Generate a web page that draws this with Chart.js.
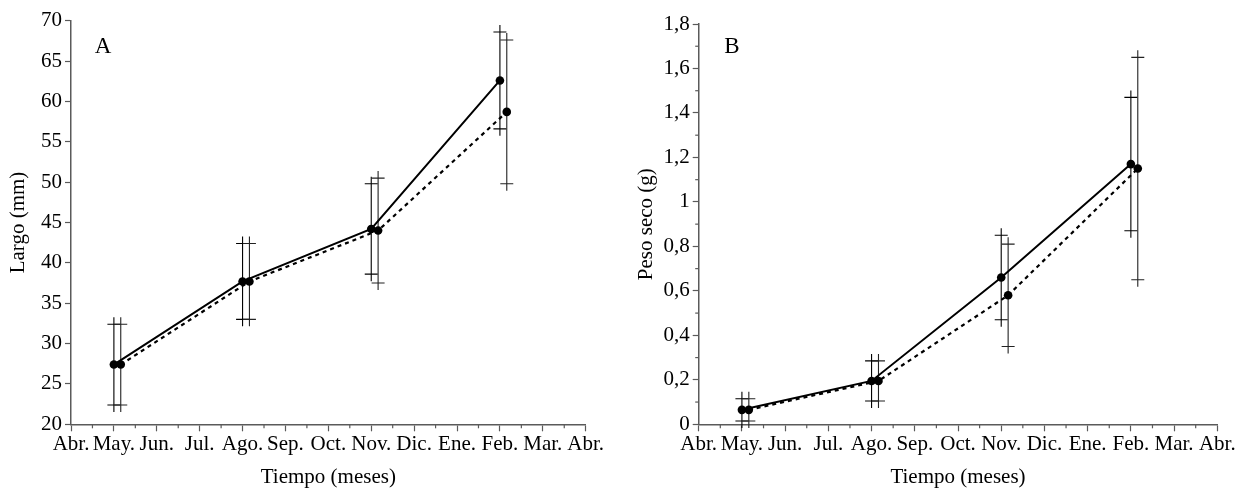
<!DOCTYPE html>
<html><head><meta charset="utf-8">
<script src="https://cdn.jsdelivr.net/npm/chart.js@4.4.1/dist/chart.umd.min.js"></script>
<style>
html,body{margin:0;padding:0;background:#fff;width:1238px;height:489px;overflow:hidden}
canvas{position:absolute;top:0}
#ca{left:0}
#cb{left:620px}
</style></head><body>
<canvas id="ca" width="620" height="489"></canvas>
<canvas id="cb" width="618" height="489"></canvas>
<script>
// ---- data ----
const monthLabels = ["Abr.","May.","Jun.","Jul.","Ago.","Sep.","Oct.","Nov.","Dic.","Ene.","Feb.","Mar.","Abr."];
const sampleMonths = [1, 4, 7, 10]; // May., Ago., Nov., Feb. (months after Abr.)
const largoSolidMean  = [27.4, 37.7, 44.2, 62.6];
const largoSolidSD    = [5.0, 4.7, 5.6, 6.0];
const largoDashedMean = [27.4, 37.7, 44.0, 58.7];
const largoDashedSD   = [5.0, 4.7, 6.5, 8.9];
const pesoSolidMean   = [0.065, 0.195, 0.66, 1.17];
const pesoSolidSD     = [0.05, 0.09, 0.19, 0.30];
const pesoDashedMean  = [0.065, 0.195, 0.58, 1.15];
const pesoDashedSD    = [0.05, 0.09, 0.23, 0.50];
const DODGE = 0.16; // horizontal offset of second series for visibility

Chart.defaults.font.family = "'Liberation Serif','Times New Roman',serif";
Chart.defaults.color = '#000';
const AXIS = '#5a5a5a';
const FS = 21;

const errorBars = {
  id: 'errorBars',
  beforeDatasetsDraw(chart) {
    const ctx = chart.ctx, ys = chart.scales.y;
    chart.data.datasets.forEach((ds, di) => {
      const meta = chart.getDatasetMeta(di);
      ctx.save();
      ctx.strokeStyle = ds.errColor || '#000';
      ctx.lineWidth = 1.1;
      ds.data.forEach((p, i) => {
        const x = meta.data[i].x;
        const yt = ys.getPixelForValue(p.y + ds.sd[i]);
        const yb = ys.getPixelForValue(p.y - ds.sd[i]);
        ctx.beginPath();
        ctx.moveTo(x, yt - 7); ctx.lineTo(x, yb + 7);
        ctx.moveTo(x - 6.5, yt); ctx.lineTo(x + 6.5, yt);
        ctx.moveTo(x - 6.5, yb); ctx.lineTo(x + 6.5, yb);
        ctx.stroke();
      });
      ctx.restore();
    });
  }
};

const minorTicks = {
  id: 'minorTicks',
  afterDraw(chart, args, opts) {
    const ctx = chart.ctx;
    ctx.save();
    ctx.strokeStyle = AXIS; ctx.lineWidth = 1.2;
    const xs = chart.scales.x, ys = chart.scales.y;
    (opts.x || []).forEach(v => {
      const px = xs.getPixelForValue(v);
      ctx.beginPath(); ctx.moveTo(px, xs.top); ctx.lineTo(px, xs.top + 4); ctx.stroke();
    });
    (opts.y || []).forEach(v => {
      const py = ys.getPixelForValue(v);
      ctx.beginPath(); ctx.moveTo(ys.right, py); ctx.lineTo(ys.right - 3.5, py); ctx.stroke();
    });
    ctx.restore();
  }
};

const panelLetter = {
  id: 'panelLetter',
  afterDraw(chart, args, opts) {
    const ctx = chart.ctx;
    ctx.save();
    ctx.font = "23px 'Liberation Serif', serif";
    ctx.fillStyle = '#000';
    ctx.textAlign = 'center'; ctx.textBaseline = 'middle';
    ctx.fillText(opts.text, chart.chartArea.left + opts.dx, opts.y);
    ctx.restore();
  }
};

function pts(means, dodge) {
  return means.map((m, i) => ({x: sampleMonths[i] + dodge, y: m}));
}

function makeChart(id, cfg) {
  const minorX = [];
  for (let i = 0; i < 12; i++) minorX.push(i + 0.5);
  return new Chart(document.getElementById(id), {
    type: 'line',
    data: {
      datasets: [
        {data: pts(cfg.m1, 0), sd: cfg.s1, borderColor: '#000', borderWidth: 2,
         pointRadius: 4.3, pointBackgroundColor: '#000', pointBorderColor: '#000', pointBorderWidth: 0,
         errColor: '#000', tension: 0},
        {data: pts(cfg.m2, DODGE), sd: cfg.s2, borderColor: '#000', borderWidth: 2.2, borderDash: [4, 4],
         pointRadius: 4.3, pointBackgroundColor: '#000', pointBorderColor: '#000', pointBorderWidth: 0,
         errColor: '#222', tension: 0}
      ]
    },
    options: {
      responsive: false, animation: false,
      layout: {padding: {left: 0, top: cfg.top, right: cfg.right, bottom: 0}},
      plugins: {
        legend: {display: false}, tooltip: {enabled: false},
        minorTicks: {x: minorX, y: cfg.minorY},
        panelLetter: {text: cfg.letter, dx: cfg.letterDx, y: 46.5}
      },
      scales: {
        x: {
          type: 'linear', min: 0, max: 12,
          afterFit: s => { s.height = 64.7; },
          border: {color: AXIS, width: 1.5},
          grid: {drawOnChartArea: false, tickLength: 7, tickColor: AXIS, tickWidth: 1.2},
          ticks: {stepSize: 1, autoSkip: false, maxRotation: 0, minRotation: 0, padding: 1,
                  font: {size: FS}, callback: v => monthLabels[v]},
          title: {display: true, text: 'Tiempo (meses)', font: {size: FS}, padding: {top: 0, bottom: -1}}
        },
        y: {
          min: cfg.ymin, max: cfg.ymax,
          afterFit: s => { s.width = cfg.yWidth; },
          border: {color: AXIS, width: 1.5},
          grid: {drawOnChartArea: false, tickLength: 6, tickColor: AXIS, tickWidth: 1.2},
          ticks: {stepSize: cfg.step, padding: 3, font: {size: FS}, callback: cfg.fmt},
          title: {display: true, text: cfg.ytitle, font: {size: FS}, padding: {top: cfg.titlePad, bottom: 0}}
        }
      }
    },
    plugins: [errorBars, minorTicks, panelLetter]
  });
}

makeChart('ca', {
  m1: largoSolidMean, s1: largoSolidSD, m2: largoDashedMean, s2: largoDashedSD,
  ymin: 20, ymax: 70, step: 5, fmt: v => String(v), minorY: [],
  top: 20.7, right: 34.3, yWidth: 71, ytitle: 'Largo (mm)', titlePad: 6,
  letter: 'A', letterDx: 32
});

const pesoMinorY = [];
for (let i = 1; i < 18; i += 2) pesoMinorY.push(i / 10);
makeChart('cb', {
  m1: pesoSolidMean, s1: pesoSolidSD, m2: pesoDashedMean, s2: pesoDashedSD,
  ymin: 0, ymax: 1.8, step: 0.2, fmt: v => String(Math.round(v * 10) / 10).replace('.', ','), minorY: pesoMinorY,
  top: 24, right: 20.7, yWidth: 78.7, ytitle: 'Peso seco (g)', titlePad: 13.5,
  letter: 'B', letterDx: 33.3
});
</script>
</body></html>
